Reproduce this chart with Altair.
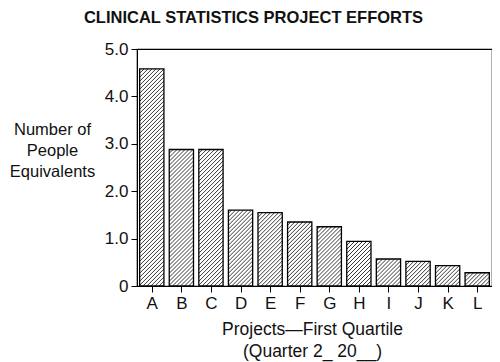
import altair as alt
import pandas as pd

projects = ["A", "B", "C", "D", "E", "F", "G", "H", "I", "J", "K", "L"]
values = [4.58, 2.88, 2.88, 1.6, 1.55, 1.35, 1.25, 0.94, 0.57, 0.52, 0.43, 0.28]
y_ticks = [0, 0.5, 1, 1.5, 2, 2.5, 3, 3.5, 4, 4.5, 5]
x_ticks = [0, 1, 2, 3, 4, 5, 6, 7, 8, 9, 10, 11]

W, H = 355, 237
HALF = 0.41          # half bar width in index units
PX_X = W / 12.0      # pixels per index unit
PX_Y = H / 5.0       # pixels per value unit
HATCH = 4.0          # horizontal hatch spacing, px

df = pd.DataFrame({"project": projects, "value": values})
FONT = "Liberation Sans"
INK = "#111111"

base = alt.Chart(df).transform_window(
    rn="row_number()"
).transform_calculate(
    idx="datum.rn - 1",
    x0=f"datum.rn - 1 - {HALF}",
    x1=f"datum.rn - 1 + {HALF}",
)

letters = "[" + ",".join(f"'{p}'" for p in projects) + "]"

x_axis = alt.Axis(
    values=x_ticks, tickCount=12,
    labelExpr=f"{letters}[round(datum.value)]",
    labelOverlap=False,
    grid=False, tickSize=6, tickColor="black", domainColor="black",
    labelFontSize=17, labelFont=FONT, labelColor=INK, labelPadding=3,
    title=["Projects\u2014First Quartile", "(Quarter 2_ 20__)"],
    titleFontSize=17.5, titleFont=FONT, titleFontWeight="normal", titleColor=INK,
    titleAngle=0, titleAlign="center", titleBaseline="top",
    titleX=175, titleY=34, titleLineHeight=22,
)
y_axis = alt.Axis(
    values=y_ticks, tickCount=10,
    labelExpr="datum.value == 0 ? '0' : (datum.value % 1 == 0 ? format(datum.value, '.1f') : '')",
    labelOverlap=False,
    grid=False, tickSize=6, tickColor="black", domainColor="black",
    labelFontSize=17, labelFont=FONT, labelColor=INK, labelPadding=3,
    title=["Number of", "People", "Equivalents"],
    titleFontSize=16.5, titleFont=FONT, titleFontWeight="normal", titleColor=INK,
    titleAngle=0, titleAlign="center", titleBaseline="top",
    titleX=-85, titleY=72, titleLineHeight=21,
)

xs = alt.Scale(domain=[-0.5, 11.5], nice=False, zero=False)
ys = alt.Scale(domain=[0, 5], nice=False)

fill = base.mark_bar(fill="white").encode(
    x=alt.X("x0:Q", scale=xs, axis=x_axis),
    x2="x1:Q",
    y=alt.Y("value:Q", scale=ys, axis=y_axis),
    y2=alt.datum(0),
)

hatch = base.transform_calculate(
    bw=f"{2 * HALF * PX_X}",
    h=f"datum.value * {PX_Y}",
).transform_calculate(
    cs=f"sequence(-datum.bw + 1, datum.h, {HATCH})"
).transform_flatten(
    ["cs"], as_=["c"]
).transform_calculate(
    sx="max(0, -datum.c)",
    ex="min(datum.bw, datum.h - datum.c)",
).transform_filter(
    "datum.ex > datum.sx"
).transform_calculate(
    hx1=f"datum.x0 + datum.sx / {PX_X}",
    hy1=f"(datum.sx + datum.c) / {PX_Y}",
    hx2=f"datum.x0 + datum.ex / {PX_X}",
    hy2=f"(datum.ex + datum.c) / {PX_Y}",
).mark_rule(color="#222222", strokeWidth=0.9).encode(
    x=alt.X("hx1:Q", scale=xs),
    y=alt.Y("hy1:Q", scale=ys),
    x2="hx2:Q",
    y2="hy2:Q",
)

outline = base.mark_bar(fill="transparent", stroke="black", strokeWidth=1.3).encode(
    x=alt.X("x0:Q", scale=xs),
    x2="x1:Q",
    y=alt.Y("value:Q", scale=ys),
    y2=alt.datum(0),
)

chart = alt.layer(fill, hatch, outline).properties(
    width=W, height=H,
    title=alt.TitleParams(
        "CLINICAL STATISTICS PROJECT EFFORTS",
        font=FONT, fontSize=16.5, fontWeight="bold", color=INK,
        anchor="middle", frame="group", dx=-61, baseline="alphabetic", offset=1,
    ),
    view=alt.ViewBackground(stroke="black", strokeWidth=1.2),
    autosize=alt.AutoSizeParams(type="none"),
    padding={"left": 129, "top": 41, "right": 0, "bottom": 76},
).configure_view(stroke="black", strokeWidth=1.2).configure(background="white")

chart.save("out.html", embed_options={"renderer": "svg", "actions": False})
